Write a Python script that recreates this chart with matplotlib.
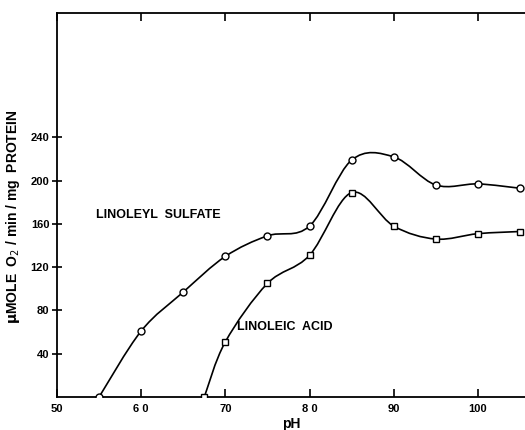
import matplotlib
matplotlib.use('Agg')
import matplotlib.pyplot as plt
from matplotlib.path import Path
from matplotlib.patches import PathPatch

plt.rcParams['font.family'] = ['Liberation Sans', 'DejaVu Sans']

# pH axis labels as printed (decimal point lost in original)
sulfate_ph = [55, 60, 65, 70, 75, 80, 85, 90, 95, 100, 105]
sulfate_rate = [0, 61, 97, 130, 149, 158, 219, 222, 196, 197, 193]

acid_ph = [67.5, 70, 75, 80, 85, 90, 95, 100, 105]
acid_rate = [0, 51, 105, 131, 189, 158, 146, 151, 153]

xticks = [50, 60, 70, 80, 90, 100]
xtick_labels = ['50', '6 0', '70', '8 0', '90', '100']
yticks = [40, 80, 120, 160, 200, 240]


def smooth_path(xs, ys, t=0.5):
    # Catmull-Rom through the points, as cubic bezier segments
    verts = [(xs[0], ys[0])]
    codes = [Path.MOVETO]
    n = len(xs)
    for i in range(n - 1):
        x0, y0 = (xs[i - 1], ys[i - 1]) if i > 0 else (xs[i], ys[i])
        x1, y1 = xs[i], ys[i]
        x2, y2 = xs[i + 1], ys[i + 1]
        x3, y3 = (xs[i + 2], ys[i + 2]) if i + 2 < n else (x2, y2)
        c1 = (x1 + (x2 - x0) * t / 3, y1 + (y2 - y0) * t / 3)
        c2 = (x2 - (x3 - x1) * t / 3, y2 - (y3 - y1) * t / 3)
        verts += [c1, c2, (x2, y2)]
        codes += [Path.CURVE4] * 3
    return Path(verts, codes)


fig = plt.figure(figsize=(5.25, 4.3), dpi=100)
ax = fig.add_axes([57 / 525, 33 / 430, 468 / 525, 384 / 430])

for xs, ys, m in [(sulfate_ph, sulfate_rate, 'o'), (acid_ph, acid_rate, 's')]:
    ax.add_patch(PathPatch(smooth_path(xs, ys), facecolor='none',
                           edgecolor='black', lw=1.2, zorder=2))
    ax.plot(xs, ys, linestyle='none', marker=m, ms=5 if m == 'o' else 4.5,
            mfc='white', mec='black', mew=1.0, zorder=3)

ax.set_xlim(50, 105.6)
ax.set_ylim(0, 355)
ax.set_xticks(xticks)
ax.set_xticklabels(xtick_labels)
ax.set_yticks(yticks)
ax.spines['right'].set_visible(False)
for s in ['left', 'bottom', 'top']:
    ax.spines[s].set_linewidth(1.3)
ax.tick_params(axis='x', direction='in', top=True, length=6, width=1.2,
               labelsize=8, pad=5)
ax.tick_params(axis='y', direction='inout', length=7, width=1.2,
               labelsize=8, pad=2)
for lab in ax.get_xticklabels() + ax.get_yticklabels():
    lab.set_fontweight('bold')

ax.set_xlabel('pH', fontsize=10, fontweight='bold', labelpad=2)
ax.set_ylabel(r'$\mathbf{\mu}$MOLE  O$_2$ / min / mg  PROTEIN', fontsize=10,
              fontweight='bold', labelpad=8)
ax.yaxis.set_label_coords(-0.075, 0.47)

ax.text(54.6, 168, 'LINOLEYL  SULFATE', fontsize=9, fontweight='bold', va='center')
ax.text(71.4, 65, 'LINOLEIC  ACID', fontsize=9, fontweight='bold', va='center')

fig.savefig('out.png', dpi=100)
